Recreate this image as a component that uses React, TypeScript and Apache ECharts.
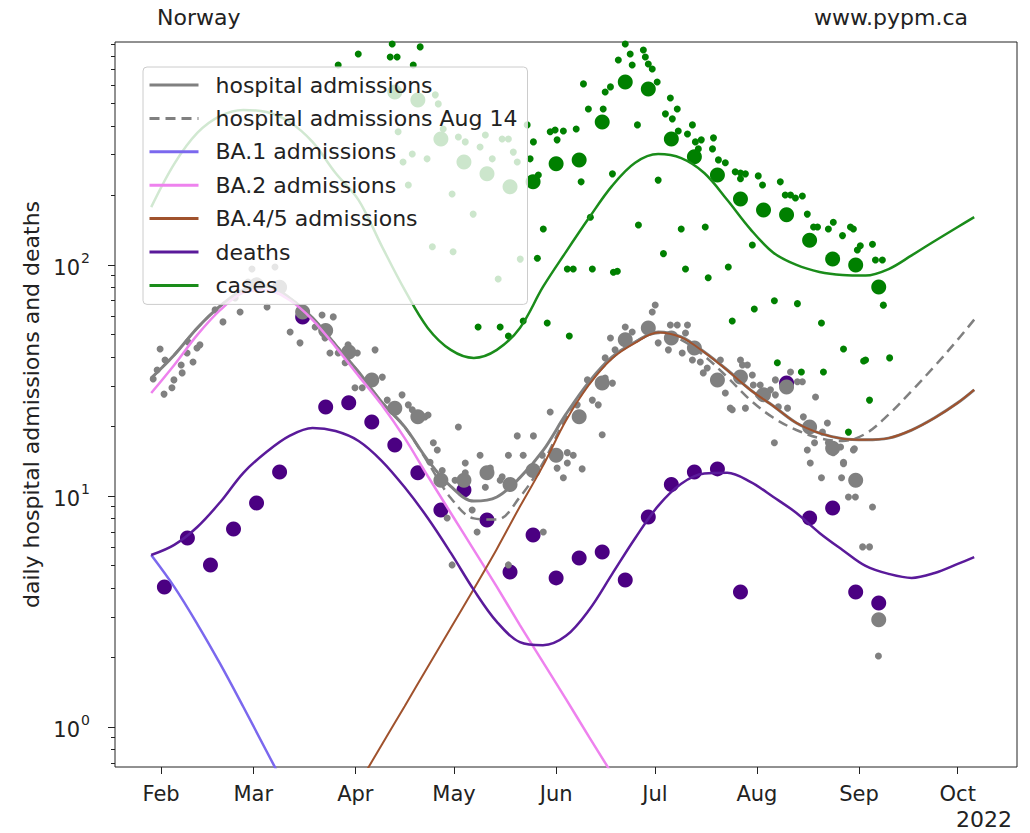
import React, { useEffect, useRef } from "react";
import * as echarts from "echarts";

const FONT = "DejaVu Sans";

// x axis: day of year 2022 (Jan 1 = 0)
const monthTicks = [31, 59, 90, 120, 151, 181, 212, 243, 273];
const monthNames = ["Feb", "Mar", "Apr", "May", "Jun", "Jul", "Aug", "Sep", "Oct"];
const yMajor = [1, 10, 100];
const yMinor = [0.7, 0.8, 0.9, 2, 3, 4, 5, 6, 7, 8, 9, 20, 30, 40, 50, 60, 70, 80, 90, 200, 300, 400, 500, 600, 700, 800, 900];

// model curve days
const curveDays = [28, 35, 42, 49, 56, 63, 70, 77, 84, 91, 98, 105, 112, 119, 126, 133, 140, 147, 154, 161, 168, 175, 182, 189, 196, 203, 210, 217, 224, 231, 238, 245, 252, 259, 266, 273, 278];
const hospModel = [32.4, 40.8, 53.4, 66.5, 78.0, 81.1, 72.0, 59.0, 45.1, 34.4, 25.5, 19.9, 14.3, 11.0, 9.5, 9.9, 12.0, 15.7, 22.6, 31.2, 40.0, 46.4, 51.3, 48.8, 42.0, 35.1, 28.8, 24.5, 20.7, 18.7, 17.7, 17.5, 17.8, 19.3, 21.8, 25.3, 28.8];
const hospModelAug14 = [32.4, 40.8, 53.4, 66.5, 78.0, 81.1, 72.0, 59.0, 45.1, 34.4, 25.5, 19.9, 14.0, 9.8, 8.0, 7.9, 9.9, 13.9, 21.8, 30.5, 39.5, 46.4, 50.8, 47.4, 40.4, 32.7, 26.0, 21.8, 19.3, 17.8, 17.3, 18.6, 22.5, 28.5, 36.5, 47.5, 58.0];
const deathsModel = [5.55, 6.14, 7.34, 9.42, 12.6, 15.5, 18.2, 19.7, 19.1, 17.3, 14.2, 10.9, 8.03, 5.67, 3.92, 2.85, 2.33, 2.26, 2.48, 3.21, 4.59, 6.56, 9.06, 11.3, 12.5, 12.6, 11.5, 9.9, 8.44, 6.92, 5.84, 4.98, 4.60, 4.42, 4.64, 5.08, 5.44];
const casesModel = [178, 274, 373, 442, 469, 459, 416, 341, 250, 191, 121, 78, 53.4, 42.9, 39.6, 42.9, 53.4, 80.3, 114, 160, 220, 277, 302, 290, 250, 191, 143, 113, 100, 93.3, 90.5, 90.0, 96, 110, 127, 146, 161];

const ba1Days = [28, 35, 42, 49, 56, 63, 70];
const ba1Model = [5.55, 4.04, 2.79, 1.87, 1.22, 0.787, 0.508];
const ba2Days = [28, 35, 42, 49, 56, 63, 70, 77, 84, 91, 98, 105, 112, 119, 126, 133, 140, 147, 154, 161, 168];
const ba2Model = [27.9, 36.9, 49.8, 63.9, 75.9, 78.0, 70.5, 57.9, 44.2, 33.1, 24.8, 17.8, 12.2, 8.44, 5.84, 4.04, 2.76, 1.91, 1.32, 0.906, 0.626];
const ba45Days = [91, 98, 105, 112, 119, 126, 133, 140, 147, 154, 161, 168, 175, 182, 189, 196, 203, 210, 217, 224, 231, 238, 245, 252, 259, 266, 273, 278];
const ba45Model = [0.566, 0.836, 1.23, 1.82, 2.68, 3.96, 5.9, 9.0, 13.5, 21.2, 30.3, 39.4, 46.0, 51.0, 48.6, 41.9, 35.0, 28.8, 24.5, 20.7, 18.7, 17.7, 17.5, 17.8, 19.3, 21.8, 25.3, 28.8];

// weekly observations
const deathsWeekDays = [32, 39, 46, 53, 60, 67, 74, 81, 88, 95, 102, 109, 116, 123, 130, 137, 144, 151, 158, 165, 172, 179, 186, 193, 200, 207, 221, 228, 235, 242, 249];
const deathsWeekly = [4.04, 6.58, 5.03, 7.2, 9.33, 12.7, 59.6, 24.3, 25.3, 20.9, 16.6, 12.6, 8.7, 10.6, 7.87, 4.69, 6.78, 4.42, 5.39, 5.72, 4.33, 8.11, 11.2, 12.7, 13.1, 3.84, 30.8, 8.03, 8.87, 3.84, 3.44];
const hospWeekDays = [60, 67, 74, 81, 88, 95, 102, 109, 116, 123, 130, 137, 144, 151, 158, 165, 172, 179, 186, 193, 200, 207, 214, 221, 228, 235, 242, 249];
const hospWeekly = [82, 80, 62.6, 52, 42, 31.8, 24.0, 22.0, 11.7, 11.7, 12.6, 11.2, 12.9, 15.0, 22.0, 30.8, 47.4, 53.4, 48.3, 43.7, 31.8, 32.7, 27.4, 29.6, 19.9, 16.1, 11.7, 2.91];
const casesWeekDays = [102, 109, 116, 123, 130, 137, 144, 151, 158, 165, 172, 179, 186, 193, 200, 207, 214, 221, 228, 235, 242, 249];
const casesWeekly = [561, 518, 351, 279, 248, 218, 229, 274, 285, 416, 620, 578, 351, 294, 245, 193, 173, 165, 128, 106, 100, 80.3];

// daily observations [day, value]
const hospDaily = [
  [30.7, 43.3], [32.2, 38.8], [29.8, 35.1], [28.6, 32.1], [31.9, 27.6], [34.3, 29.4], [34.9, 31.8], [37.1, 36.9], [38.9, 41.6], [40.7, 38.0], [39.2, 46.4], [42.8, 45.1], [41.9, 43.7], [37.4, 34.1], [47.4, 63.9], [49.8, 56.7], [55.0, 62.6], [63.2, 65.8], [70.2, 51.3], [73.2, 46.0], [77.8, 53.9], [79.9, 60.7], [83.3, 59.6], [82.3, 41.6], [84.8, 41.6], [87.8, 45.1], [90.6, 41.6], [86.9, 37.7], [89.9, 29.4], [92.1, 29.4], [80.8, 48.3],
  [57.4, 84.4], [58.6, 96.1], [65.6, 98], [67.8, 80.3], [53.5, 72.0],
  [96.0, 42.9], [95.1, 32.7], [98.2, 32.7], [104.2, 27.4], [99.7, 26.0], [106.1, 24.8], [107.3, 23.6], [111.2, 22.0], [112.1, 22.4], [121.3, 19.9], [113.7, 17.0], [114.9, 15.8], [112.7, 14.0], [116.4, 12.9], [123.4, 13.9], [127.9, 15.0], [120.3, 11.7], [123.4, 12.6], [125.5, 8.7], [129.5, 12.7], [131.0, 13.2], [134.0, 11.7], [134.6, 12.1], [129.5, 10.9], [136.5, 15.0], [139.2, 18.2], [141.0, 15.0], [144.1, 18.2], [146.8, 15.0], [149.2, 23.1], [151.3, 13.2], [153.2, 12.0], [154.4, 13.9], [156.2, 15.0], [158.9, 13.1], [154.4, 15.4], [157.4, 24.8], [160.5, 31.8], [162.0, 26.0], [163.8, 24.8], [165.0, 18.4], [165.9, 39.6], [167.5, 48.3], [168.1, 30.8], [165.9, 32.4],
  [117.9, 8.03], [119.4, 5.03], [127.0, 6.98], [136.5, 5.03], [147.1, 6.98],
  [181.1, 67.1], [180.2, 62.6], [172.0, 53.9], [174.1, 51.3], [168.9, 42.9], [185.7, 55.0], [187.8, 55.0], [190.9, 55.0], [190.3, 50.8], [182.0, 46.0], [185.1, 42.9], [189.3, 41.6], [192.4, 38.8], [194.8, 38.0], [196.9, 35.8], [195.7, 34.1], [200.9, 38.8], [202.4, 27.9], [203.9, 24.0], [204.5, 23.6], [207.0, 38.8], [207.6, 36.9], [209.1, 36.9], [208.5, 24.0], [210.6, 33.4], [210.9, 30.2], [213.0, 30.2], [212.4, 27.4], [216.1, 28.8], [217.6, 27.4], [218.5, 24.3], [217.6, 31.8], [222.2, 34.4], [224.3, 31.2], [225.8, 31.2], [221.3, 24.0], [217.3, 17.0], [229.8, 26.8], [226.1, 22.0], [233.4, 20.7], [231.9, 18.9], [227.3, 15.8], [229.5, 17.0], [233.7, 17.0], [235.2, 15.4], [241.3, 15.8], [228.2, 13.9], [238.3, 14.0], [231.6, 12.0], [237.7, 12.0], [239.8, 9.9], [241.9, 9.9], [241.0, 11.7],
  [241.6, 16.0], [237.4, 16.3], [238.3, 13.8], [247.1, 8.96], [244.1, 6.02], [246.2, 6.02], [248.9, 2.03],
];
const casesDaily = [
  [84.8, 734], [90.9, 819], [101.2, 905], [100.6, 795], [102.7, 795], [109.7, 879], [107.6, 734],
  [114.3, 545], [115.2, 498], [103.0, 377], [107.3, 302], [111.8, 288], [104.5, 279], [116.7, 388], [121.3, 358], [123.4, 341], [127.9, 324], [129.5, 365], [134.6, 351], [136.5, 351], [138.0, 308], [131.6, 288], [139.2, 279], [106.1, 222], [119.4, 203], [125.8, 166], [113.4, 120], [119.7, 114], [140.1, 106], [133.4, 87], [142.2, 404],
  [144.1, 341], [143.1, 288], [149.2, 377], [150.7, 384], [153.2, 380], [151.3, 348], [157.1, 388], [159.3, 608], [160.8, 473], [165.3, 473], [165.9, 561], [167.5, 590], [168.1, 248], [158.6, 229], [145.6, 245], [147.1, 143], [145.3, 107], [154.4, 96], [156.2, 96], [162.0, 96], [168.4, 93], [161.4, 161],
  [127.3, 53.9], [134.0, 53.9], [136.5, 49.3], [141.0, 57.2], [148.3, 56.1], [155.0, 49.3],
  [172.0, 905], [173.5, 819], [169.9, 771], [174.1, 734], [177.5, 853], [178.1, 795], [179.0, 741], [180.2, 705], [181.7, 620], [185.7, 528], [184.2, 451], [187.8, 473], [186.3, 429], [175.7, 404], [188.1, 380], [190.9, 369], [192.4, 404], [193.3, 341], [195.1, 348], [198.8, 355], [198.5, 318], [194.2, 318], [200.3, 285], [202.4, 277], [205.4, 253], [207.0, 250], [208.5, 248], [207.0, 236], [212.4, 243], [213.7, 222], [219.1, 229], [220.6, 201], [222.2, 201], [223.7, 195], [225.8, 199], [227.3, 166], [229.2, 146], [230.4, 146], [233.7, 143], [235.2, 153], [238.0, 134], [240.4, 146], [241.3, 143], [242.5, 116], [243.4, 121],
  [182.0, 233], [176.0, 149], [189.0, 143], [196.3, 146], [183.6, 112], [190.3, 96], [197.2, 88], [203.3, 98], [210.6, 122], [169.6, 94],
  [204.5, 57.2], [211.2, 64.5], [217.3, 70], [224.3, 68], [231.6, 56.1], [238.3, 43.3], [218.2, 37.7], [225.5, 34.4], [232.2, 34.4], [239.8, 18.9], [244.4, 38.4],
  [247.1, 123], [248.0, 105], [250.1, 105], [250.4, 67], [245.0, 38.8], [252.3, 39.6], [246.2, 26.0],
];

const GRAY = "#808080";
const GREEN = "#008000";
const INDIGO = "#4b0082";
const TXT = "#222";
const FS = 22;

const pair = (days: number[], vals: number[]) => days.map((d, i) => [d, vals[i]]);

function lineSeries(name: string, days: number[], vals: number[], color: string, width: number, extra: any = {}) {
  return {
    type: "line",
    name,
    data: pair(days, vals),
    symbol: "none",
    smooth: 0.35,
    clip: true,
    silent: true,
    lineStyle: { color, width, ...(extra.lineStyle || {}) },
    itemStyle: { color },
    z: 3,
  };
}

function scatterSeries(name: string, data: number[][], color: string, size: number) {
  return {
    type: "scatter",
    name,
    data,
    symbol: "circle",
    symbolSize: size,
    clip: true,
    silent: true,
    itemStyle: { color, opacity: 1 },
    z: 2,
  };
}

export default function App() {
  const ref = useRef<HTMLDivElement>(null);
  useEffect(() => {
    if (!ref.current) return;
    const chart = echarts.init(ref.current, null, { renderer: "svg" });
    const legendNames = ["hospital admissions", "hospital admissions Aug 14", "BA.1 admissions", "BA.2 admissions", "BA.4/5 admissions", "deaths", "cases"];
    const titleStyle = { fontFamily: FONT, fontSize: FS, fontWeight: "normal", color: TXT };
    chart.setOption({
      animation: false,
      textStyle: { fontFamily: FONT },
      title: [
        { text: "Norway", left: 157, top: 6, padding: 0, textStyle: titleStyle },
        { text: "www.pypm.ca", right: 62, top: 6, padding: 0, textStyle: titleStyle },
        { text: "2022", right: 18, top: 808, padding: 0, textStyle: titleStyle },
      ],
      grid: { left: 115, top: 42, width: 902, height: 725, show: true, borderColor: TXT, borderWidth: 1, backgroundColor: "transparent" },
      legend: {
        data: legendNames,
        orient: "vertical",
        left: 143,
        top: 67,
        padding: [6, 10, 7, 5],
        itemWidth: 49,
        itemHeight: 14,
        itemGap: 9.4,
        selectedMode: false,
        backgroundColor: "rgba(255,255,255,0.8)",
        borderColor: "#cccccc",
        borderWidth: 1,
        borderRadius: 4,
        itemStyle: { opacity: 0 },
        lineStyle: { width: 3 },
        textStyle: { fontFamily: FONT, fontSize: FS, color: TXT, lineHeight: 24, padding: [0, 0, 0, 12] },
      },
      xAxis: {
        type: "value",
        min: 17,
        max: 291,
        axisLine: { show: false },
        splitLine: { show: false },
        axisTick: { show: true, customValues: monthTicks, length: 7, lineStyle: { color: TXT, width: 1 } },
        axisLabel: {
          customValues: monthTicks,
          margin: 16,
          fontFamily: FONT,
          fontSize: 21,
          color: TXT,
          formatter: (v: number) => monthNames[monthTicks.indexOf(Math.round(v))] || "",
        },
      },
      yAxis: [
        {
          type: "log",
          logBase: 10,
          min: 0.671,
          max: 923,
          name: "daily hospital admissions and deaths",
          nameLocation: "middle",
          nameRotate: 90,
          nameGap: 70,
          nameTextStyle: { fontFamily: FONT, fontSize: 22, color: TXT },
          axisLine: { show: false },
          splitLine: { show: false },
          axisTick: { show: true, customValues: yMajor, length: 7, lineStyle: { color: TXT } },
          axisLabel: {
            customValues: yMajor,
            margin: 25,
            color: TXT,
            formatter: (v: number) => "{b|10}{s|" + Math.round(Math.log10(v)) + "}",
            rich: {
              b: { fontFamily: FONT, fontSize: 21, color: TXT, lineHeight: 28, verticalAlign: "bottom" },
              s: { fontFamily: FONT, fontSize: 14, color: TXT, lineHeight: 28, verticalAlign: "top", padding: [0, 0, 10, 1] },
            },
          },
        },
        {
          type: "log",
          logBase: 10,
          min: 0.671,
          max: 923,
          position: "left",
          axisLine: { show: false },
          splitLine: { show: false },
          axisLabel: { show: false },
          axisTick: { show: true, customValues: yMinor, length: 4, lineStyle: { color: TXT } },
        },
      ],
      series: [
        scatterSeries("deaths weekly", pair(deathsWeekDays, deathsWeekly), INDIGO, 15),
        scatterSeries("hosp daily", hospDaily, GRAY, 7),
        scatterSeries("hosp weekly", pair(hospWeekDays, hospWeekly), GRAY, 15),
        scatterSeries("cases daily", casesDaily, GREEN, 7),
        scatterSeries("cases weekly", pair(casesWeekDays, casesWeekly), GREEN, 15),
        lineSeries("hospital admissions", curveDays, hospModel, GRAY, 3),
        lineSeries("hospital admissions Aug 14", curveDays, hospModelAug14, GRAY, 2.5, { lineStyle: { type: [10, 6] } }),
        lineSeries("BA.1 admissions", ba1Days, ba1Model, "#7b68ee", 2.5),
        lineSeries("BA.2 admissions", ba2Days, ba2Model, "#ee82ee", 2.5),
        lineSeries("BA.4/5 admissions", ba45Days, ba45Model, "#a0522d", 2),
        lineSeries("deaths", curveDays, deathsModel, "#5a1a9a", 2.5),
        lineSeries("cases", curveDays, casesModel, "#1a8c1a", 2.5),
      ],
    });
    return () => chart.dispose();
  }, []);
  return <div ref={ref} style={{ position: "absolute", left: 0, top: 0, width: 1030, height: 833 }} />;
}
